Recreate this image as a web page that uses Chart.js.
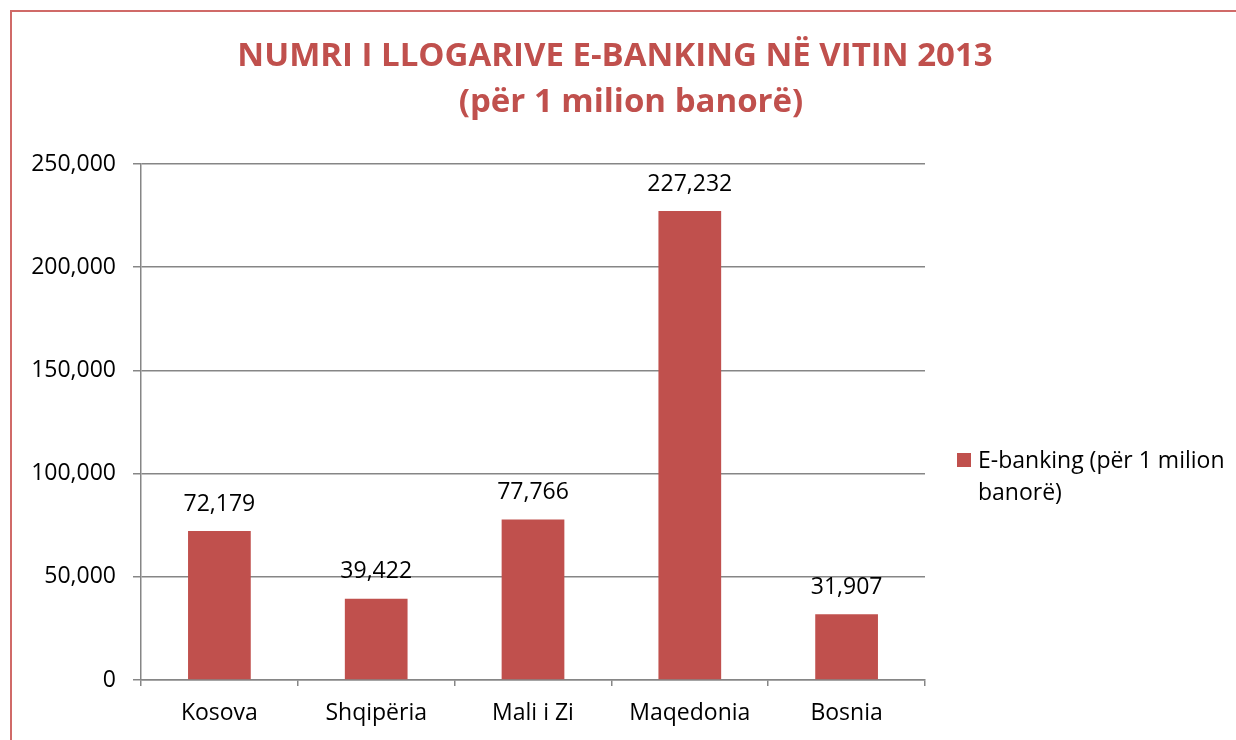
<!DOCTYPE html>
<html>
<head>
<meta charset="utf-8">
<script src="https://cdn.jsdelivr.net/npm/chart.js"></script>
<style>
  html, body { margin: 0; padding: 0; background: #fff; }
  #wrap { width: 1236px; height: 740px; position: relative; }
</style>
</head>
<body>
<div id="wrap"><canvas id="chart"></canvas></div>
<script>
// Chart data
const countries = ['Kosova', 'Shqipëria', 'Mali i Zi', 'Maqedonia', 'Bosnia'];
const accounts = [72179, 39422, 77766, 227232, 31907];
const seriesLabel = ['E-banking (për 1 milion', 'banorë)'];
const titleLines = ['NUMRI I LLOGARIVE E-BANKING NË VITIN 2013', '(për 1 milion banorë)'];

const FONT = '"Open Sans", "Liberation Sans", sans-serif';
const RED = '#C0504D';
const AXIS = '#868686';

const fmt = v => v.toLocaleString('en-US');

// Frame + title + legend drawn around the plot
const decorPlugin = {
  id: 'decor',
  beforeDraw(chart) {
    const ctx = chart.ctx;
    ctx.save();
    ctx.fillStyle = '#fff';
    ctx.fillRect(0, 0, chart.width, chart.height);
    ctx.strokeStyle = '#D06A68';
    ctx.lineWidth = 2;
    ctx.strokeRect(11, 11, chart.width + 20, chart.height + 20);
    ctx.restore();
  },
  afterDraw(chart) {
    const ctx = chart.ctx;
    ctx.save();
    // title
    ctx.fillStyle = RED;
    ctx.textAlign = 'center';
    ctx.textBaseline = 'middle';
    ctx.font = 'bold 33px ' + FONT;
    ctx.fillText(titleLines[0], 615, 57);
    ctx.fillText(titleLines[1], 631, 103);

    // legend
    ctx.fillStyle = RED;
    ctx.fillRect(957, 453, 14, 14);
    ctx.fillStyle = '#000';
    ctx.textAlign = 'left';
    ctx.font = '23px ' + FONT;
    ctx.fillText(seriesLabel[0], 978, 461);
    ctx.fillText(seriesLabel[1], 978, 493);
    ctx.restore();
  }
};

// Value labels above bars
const valueLabels = {
  id: 'valueLabels',
  afterDatasetsDraw(chart) {
    const ctx = chart.ctx;
    const meta = chart.getDatasetMeta(0);
    ctx.save();
    ctx.fillStyle = '#000';
    ctx.font = '23px ' + FONT;
    ctx.textAlign = 'center';
    ctx.textBaseline = 'middle';
    meta.data.forEach((bar, i) => {
      ctx.fillText(fmt(accounts[i]), bar.x, bar.y - 27);
    });
    ctx.restore();
  }
};

new Chart(document.getElementById('chart'), {
  type: 'bar',
  data: {
    labels: countries,
    datasets: [{
      label: seriesLabel.join(' '),
      data: accounts,
      backgroundColor: RED,
      barPercentage: 0.4,
      categoryPercentage: 1.0
    }]
  },
  options: {
    responsive: true,
    maintainAspectRatio: false,
    animation: false,
    layout: { padding: { left: 11, top: 164, right: 311, bottom: 0 } },
    plugins: {
      legend: { display: false },
      title: { display: false },
      tooltip: { enabled: false }
    },
    scales: {
      x: {
        afterFit(scale) { scale.height = 60; },
        grid: {
          offset: true,
          drawOnChartArea: false,
          drawTicks: true,
          tickLength: 6,
          color: AXIS,
          lineWidth: 1.5
        },
        border: { color: AXIS, width: 1.5 },
        ticks: {
          color: '#000',
          font: { family: FONT, size: 23 },
          padding: 14
        }
      },
      y: {
        min: 0,
        max: 250000,
        afterFit(scale) { scale.width = 130; },
        grid: {
          color: AXIS,
          lineWidth: 1.5,
          tickLength: 8
        },
        border: { color: AXIS, width: 1.5 },
        ticks: {
          stepSize: 50000,
          color: '#000',
          font: { family: FONT, size: 23 },
          padding: 17,
          callback: v => fmt(v)
        }
      }
    }
  },
  plugins: [decorPlugin, valueLabels]
});
</script>
</body>
</html>
